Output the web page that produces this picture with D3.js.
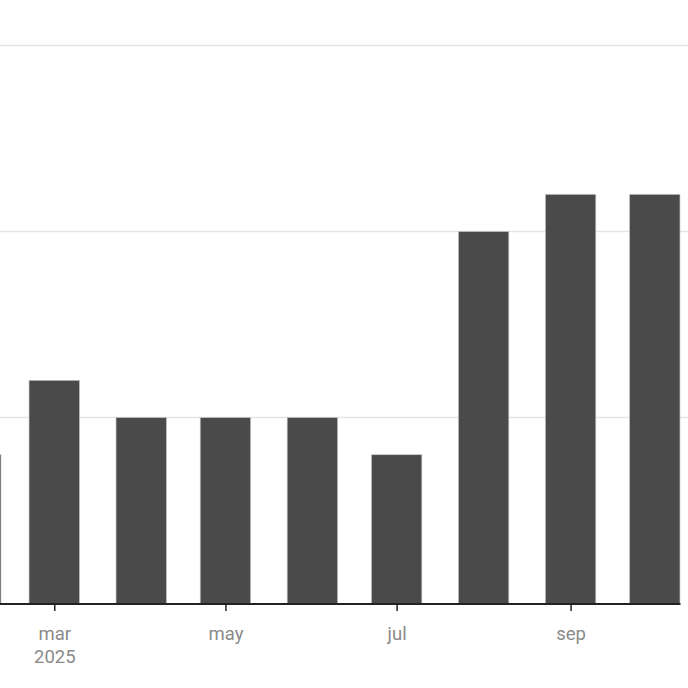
<!DOCTYPE html>
<html><head><meta charset="utf-8">
<script src="https://cdn.jsdelivr.net/npm/d3@7"></script>
<style>html,body{margin:0;padding:0;background:#fff;}svg{display:block;}</style>
</head><body>
<script>
const months = ["2025-02-01","2025-03-01","2025-04-01","2025-05-01","2025-06-01","2025-07-01","2025-08-01","2025-09-01","2025-10-01"];
const counts = [4, 6, 5, 5, 5, 4, 10, 11, 11];
const gridValues = [5, 10, 15];
const tickMonths = ["2025-03-01","2025-05-01","2025-07-01","2025-09-01"];
const tickLabels = [["mar","2025"],["may"],["jul"],["sep"]];

const W = 688, H = 688;
const parse = d3.utcParse("%Y-%m-%d");
const svg = d3.select("body").append("svg").attr("width", W).attr("height", H);

const x = d3.scaleUtc()
  .domain([parse("2025-01-12"), parse("2025-10-10")])
  .range([-80.4, 680]);
const y = d3.scaleLinear().domain([0, 15]).range([603.5, 45.5]);

// gridlines
svg.append("g").selectAll("line").data(gridValues).join("line")
  .attr("x1", 0).attr("x2", W)
  .attr("y1", d => y(d)).attr("y2", d => y(d))
  .attr("stroke", "#e5e5e5").attr("stroke-width", 1.6);

// bars
const bw = 50.5;
svg.append("g").selectAll("rect").data(months).join("rect")
  .attr("x", d => x(parse(d)) - bw / 2)
  .attr("width", bw)
  .attr("y", (d, i) => y(counts[i]))
  .attr("height", (d, i) => y(0) - y(counts[i]))
  .attr("fill", "#4a4a4a")
  .attr("stroke", "#c8c8c8").attr("stroke-width", 0.7);

// axis
const axis = d3.axisBottom(x)
  .tickValues(tickMonths.map(parse))
  .tickSizeInner(7.5)
  .tickSizeOuter(0)
  .tickFormat("");
const g = svg.append("g").attr("transform", `translate(0,${y(0)})`).call(axis);
g.select(".domain").attr("stroke", "#222").attr("stroke-width", 1.8);
g.selectAll(".tick line").attr("stroke", "#222").attr("stroke-width", 1.5);
g.selectAll(".tick").each(function(d, i) {
  const t = d3.select(this).append("text")
    .attr("fill", "#8a8a8a")
    .attr("font-family", "Roboto, sans-serif")
    .attr("font-size", 18.5)
    .attr("text-anchor", "middle");
  tickLabels[i].forEach((s, j) => {
    t.append("tspan").attr("x", 0).attr("y", 36 + j * 23).text(s);
  });
});
</script>
</body></html>
